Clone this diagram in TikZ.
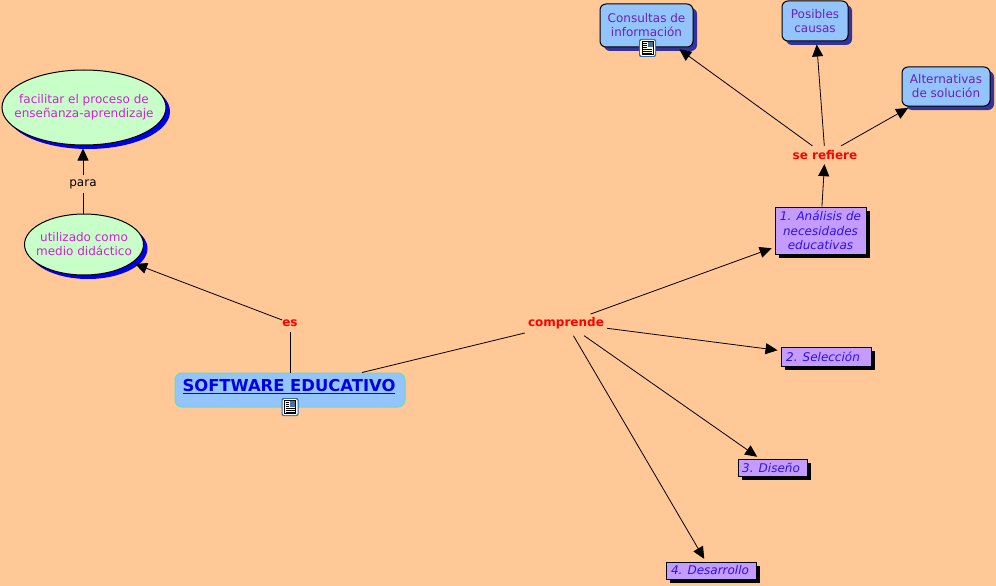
\documentclass[tikz,border=0pt]{standalone}
\usepackage{fontspec}
\setmainfont{DejaVu Sans}
\usetikzlibrary{arrows.meta}
\usetikzlibrary{shapes.geometric}
\usetikzlibrary{shadows}

\definecolor{fondo}{HTML}{FFC896}
\definecolor{celeste}{HTML}{94C4FC}
\definecolor{verdeclaro}{HTML}{C8FFC8}
\definecolor{lila}{HTML}{C49BFF}
\definecolor{morado}{HTML}{6A22B8}
\definecolor{rosa}{HTML}{D020D8}
\definecolor{azulsombra}{HTML}{333399}
\definecolor{azulpaso}{HTML}{3010F0}
\definecolor{borde}{HTML}{66DDC0}
\definecolor{marcoicono}{HTML}{3366AA}
\definecolor{papel}{HTML}{FFFFCC}

\tikzset{
    enlace/.style={-{Triangle[length=12pt,width=11pt]}, line width=0.8pt, shorten >=3pt},
    tramo/.style={line width=0.8pt},
    palabra/.style={inner sep=0pt, font=\fontsize{12}{14}\selectfont},
    roja/.style={palabra, text=red, font=\fontsize{12}{14}\selectfont\bfseries},
    meta/.style={ellipse, draw=black, line width=1pt, fill=verdeclaro, inner ysep=0pt, text=rosa,
        align=center, font=\fontsize{12}{14}\selectfont,
        general shadow={fill=blue!90!black, shadow xshift=4pt, shadow yshift=-4pt}},
    caja/.style={rectangle, rounded corners=6pt, draw=black, line width=1pt, fill=celeste, inner sep=0pt,
        text=morado, align=center, font=\fontsize{12}{14}\selectfont,
        general shadow={fill=azulsombra, shadow xshift=4pt, shadow yshift=-4pt}},
    paso/.style={rectangle, draw=black, line width=1pt, fill=lila, inner sep=0pt, text=azulpaso,
        align=center, font=\fontsize{12}{14.5}\selectfont\itshape,
        general shadow={fill=black, shadow xshift=4pt, shadow yshift=-4pt}},
    docicono/.pic={
        \fill[marcoicono, rounded corners=2pt] (-8.5,-9) rectangle (8.5,9);
        \fill[white, rounded corners=1.5pt] (-7.5,-8) rectangle (7.5,8);
        \fill[papel] (-5.5,-6.5) rectangle (5.5,6.5);
        \draw[black, line width=0.6pt] (-5.5,-6.5) rectangle (5.5,6.5);
        \fill[marcoicono!70!gray] (0,-6) rectangle (5,-0.5);
        \foreach \y in {-4.5,-2.5,-0.5} \draw[line width=0.8pt] (-4.5,\y) -- (-1,\y);
        \foreach \y in {1.5,3.5,5} \draw[line width=0.8pt] (-4.5,\y) -- (4.5,\y);
    }
}

\begin{document}
\begin{tikzpicture}[x=1pt,y=-1pt]
    \useasboundingbox (0,0) rectangle (996,586);
    \fill[fondo] (0,0) rectangle (996,586);

    % conceptos
    \node[rectangle, rounded corners=7pt, draw=borde, line width=1pt, fill=celeste, inner sep=0pt,
        minimum width=230pt, minimum height=34pt] (software) at (290,390) {};
    \node[text=blue!90!black, inner sep=0pt, font=\fontsize{16.4}{18}\selectfont\bfseries] (softwaretxt) at (289,387)
        {\underline{SOFTWARE EDUCATIVO}};
    \node[meta, inner xsep=-12pt, minimum width=164pt, minimum height=75pt] (facilitar) at (84,107.5) {facilitar el proceso de\\enseñanza-aprendizaje};
    \node[meta, inner xsep=-6pt, minimum width=119pt, minimum height=61pt] (medio) at (84,244.5) {utilizado como\\medio didáctico};
    \node[caja, minimum width=93pt, minimum height=43pt] (consultas) at (646.5,25.5) {Consultas de\\información};
    \node[caja, minimum width=66pt, minimum height=40pt] (causas) at (815,21) {Posibles\\causas};
    \node[caja, minimum width=88pt, minimum height=39pt] (alternativas) at (946,86.5) {Alternativas\\de solución};
    \node[paso, minimum width=91pt, minimum height=47pt] (analisis) at (820.5,230.5) {1. Análisis de\\necesidades\\educativas};
    \node[paso, minimum width=90pt, minimum height=19pt] (seleccion) at (826,356.5) {2. Selección\hspace{6pt}};
    \node[paso, minimum width=69pt, minimum height=17pt] (diseno) at (772.5,467.5) {3. Diseño\hspace{3pt}};
    \node[paso, minimum width=90pt, minimum height=17pt] (desarrollo) at (711,570.5) {4. Desarrollo\hspace{2pt}};

    % palabras de enlace
    \node[roja, minimum width=15pt, minimum height=18pt] (es) at (290,323) {es};
    \node[roja, minimum width=82pt, minimum height=25pt] (comprende) at (566,323) {comprende};
    \node[roja, minimum width=70pt, minimum height=18pt] (refiere) at (825,155) {se refiere};
    \node[palabra, minimum width=30pt, minimum height=18pt] (para) at (83,184) {para};

    % conexiones
    \draw[tramo] (software) -- (es);
    \draw[enlace] (es) -- (medio);
    \draw[tramo] (medio.north -| para) -- (para);
    \draw[enlace] (para) -- (facilitar.south -| para);
    \draw[tramo] (software) -- (comprende);
    \draw[enlace, shorten <=-11pt] (comprende) -- (analisis);
    \draw[enlace] (comprende) -- (seleccion);
    \draw[enlace] (comprende) -- (diseno);
    \draw[enlace] (comprende) -- (desarrollo);
    \draw[enlace, shorten >=0pt] (analisis) -- (refiere);
    \draw[enlace] (refiere) -- (consultas);
    \draw[enlace] (refiere) -- (causas);
    \draw[enlace] (refiere) -- (alternativas);

    % iconos
    \pic at (647.5,48) {docicono};
    \pic at (290,407) {docicono};
\end{tikzpicture}
\end{document}
